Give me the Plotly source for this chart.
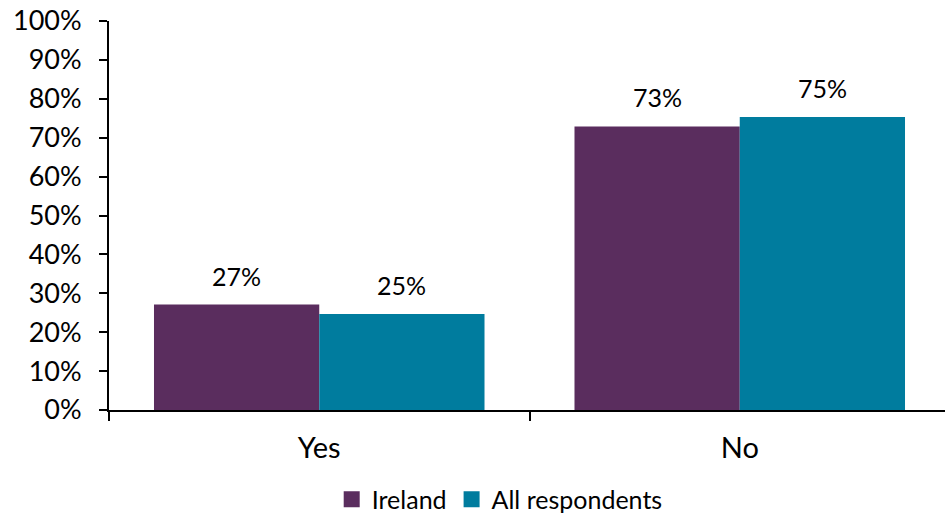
import plotly.graph_objects as go

categories = ["Yes", "No"]
ireland = [27.1, 72.9]
all_resp = [24.7, 75.3]
series = [("Ireland", ireland, "#5A2D5E"), ("All respondents", all_resp, "#007C9E")]
y_ticks = list(range(0, 101, 10))
y_tick_labels = [f"{v}%" for v in y_ticks]

FONT = "Lato, 'Open Sans', sans-serif"
W, H = 950, 515
ML, MR, MT, MB = 109, 0, 21, 105
BARGAP = 0.214

fig = go.Figure()
for name, vals, col in series:
    fig.add_trace(go.Bar(name=name, x=categories, y=vals, marker_color=col,
                         marker_line_width=0, showlegend=False))
    fig.add_trace(go.Scatter(name=name, x=[None], y=[None], mode="markers",
                             marker=dict(symbol="square", size=16, color=col)))

# value labels above each bar
cat_px = (W - ML - MR) / len(categories)
bar_px = cat_px * (1 - BARGAP) / len(series)
for si, (name, vals, col) in enumerate(series):
    shift = (si - (len(series) - 1) / 2) * bar_px
    for c, v in zip(categories, vals):
        fig.add_annotation(x=c, y=v, text=f"{v:.0f}%", showarrow=False,
                           xshift=shift, yshift=12, yanchor="bottom",
                           font=dict(size=25, color="black", family=FONT))

fig.update_layout(
    width=W, height=H,
    margin=dict(l=ML, r=MR, t=MT, b=MB),
    barmode="group", bargap=BARGAP, bargroupgap=0,
    plot_bgcolor="white", paper_bgcolor="white",
    font=dict(family=FONT, size=25, color="black"),
    showlegend=True,
    legend=dict(orientation="h", x=0.526, xref="container", xanchor="center",
                y=0.03, yref="container", yanchor="middle",
                font=dict(size=25, family=FONT), itemwidth=30, traceorder="normal"),
    xaxis=dict(showline=True, linecolor="black", linewidth=2, ticks="outside",
               tickson="boundaries", ticklen=9, tickwidth=2, tickcolor="black",
               showgrid=False, tickfont=dict(size=29), zeroline=False,
               automargin=False, ticklabelstandoff=11),
    yaxis=dict(range=[0, 100], tickvals=y_ticks, ticktext=y_tick_labels,
               showline=True, linecolor="black", linewidth=2, ticks="outside",
               ticklen=8, tickwidth=2, tickcolor="black", showgrid=False,
               zeroline=False, tickfont=dict(size=27), automargin=False,
               ticklabelstandoff=12),
)
fig.write_html("out.html", config={"displayModeBar": False},
               post_script="document.body.style.margin='0';document.body.style.overflow='hidden';")
